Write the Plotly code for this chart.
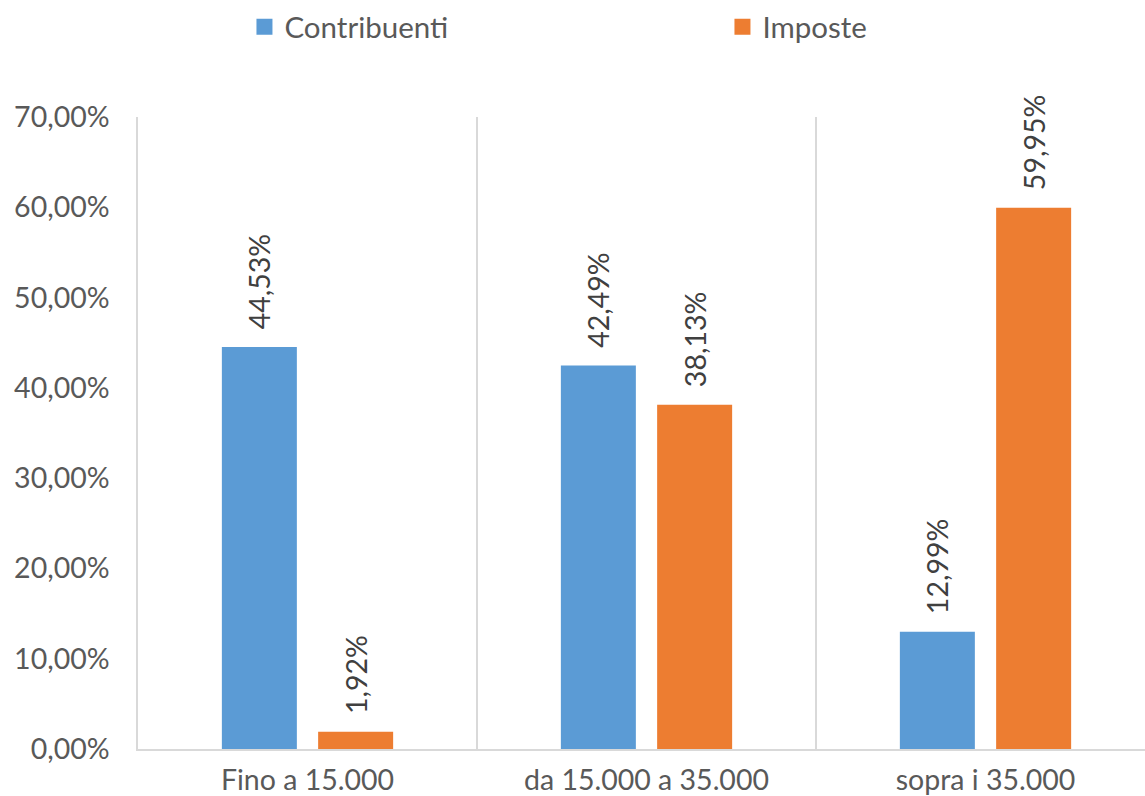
import plotly.graph_objects as go

categories = ["Fino a 15.000", "da 15.000 a 35.000", "sopra i 35.000"]
contribuenti = [44.53, 42.49, 12.99]
imposte = [1.92, 38.13, 59.95]
series_names = ["Contribuenti", "Imposte"]

BLUE = "#5B9BD5"
ORANGE = "#ED7D31"
TEXT = "#595959"
LABEL = "#404040"
GRID = "#D9D9D9"
FONT = "Lato"
FS = 28.5

fig = go.Figure()
for name, vals, col in [(series_names[0], contribuenti, BLUE), (series_names[1], imposte, ORANGE)]:
    fig.add_trace(go.Bar(
        name=name, x=categories, y=vals, marker=dict(color=col, line=dict(width=0)),
        texttemplate="\u00a0\u00a0%{y:.2f}%", textposition="outside", textangle=-90,
        textfont=dict(family=FONT, size=FS, color=LABEL),
        cliponaxis=False, constraintext="none", showlegend=False,
    ))
    # legend proxy with a larger square swatch
    fig.add_trace(go.Scatter(
        name=name, x=[None], y=[None], mode="markers",
        marker=dict(symbol="square", size=16, color=col), showlegend=True,
    ))

W, H = 1145, 796
L, T, B = 138, 117, 45
cat_px = 339
plot_w = W - L

fig.update_layout(
    width=W, height=H,
    margin=dict(l=L, r=0, t=T, b=B, pad=0),
    paper_bgcolor="white", plot_bgcolor="white",
    separators=",.",
    barmode="group", bargap=0.432, bargroupgap=0.221,
    font=dict(family=FONT, size=FS, color=TEXT),
    legend=dict(
        orientation="h", xref="container", yref="container",
        x=0.2135, xanchor="left", y=0.966, yanchor="middle",
        entrywidth=433, font=dict(family=FONT, size=29.5, color=TEXT),
        itemwidth=30, bgcolor="rgba(0,0,0,0)",
    ),
    xaxis=dict(
        type="category", range=[-0.5, -0.5 + plot_w / cat_px],
        tickson="boundaries", showgrid=True, gridcolor=GRID, gridwidth=1.5,
        showline=True, linecolor=GRID, linewidth=1.5,
        ticks="", tickfont=dict(family=FONT, size=FS, color=TEXT),
        ticklabelstandoff=5, zeroline=False,
    ),
    yaxis=dict(
        range=[0, 70], dtick=10, tick0=0, tickformat=".2f", ticksuffix="%",
        showgrid=False, zeroline=False, showline=True, linecolor=GRID, linewidth=1.5,
        ticks="", tickfont=dict(family=FONT, size=FS, color=TEXT),
        ticklabelstandoff=21,
    ),
)

fig.write_html("out.html")
